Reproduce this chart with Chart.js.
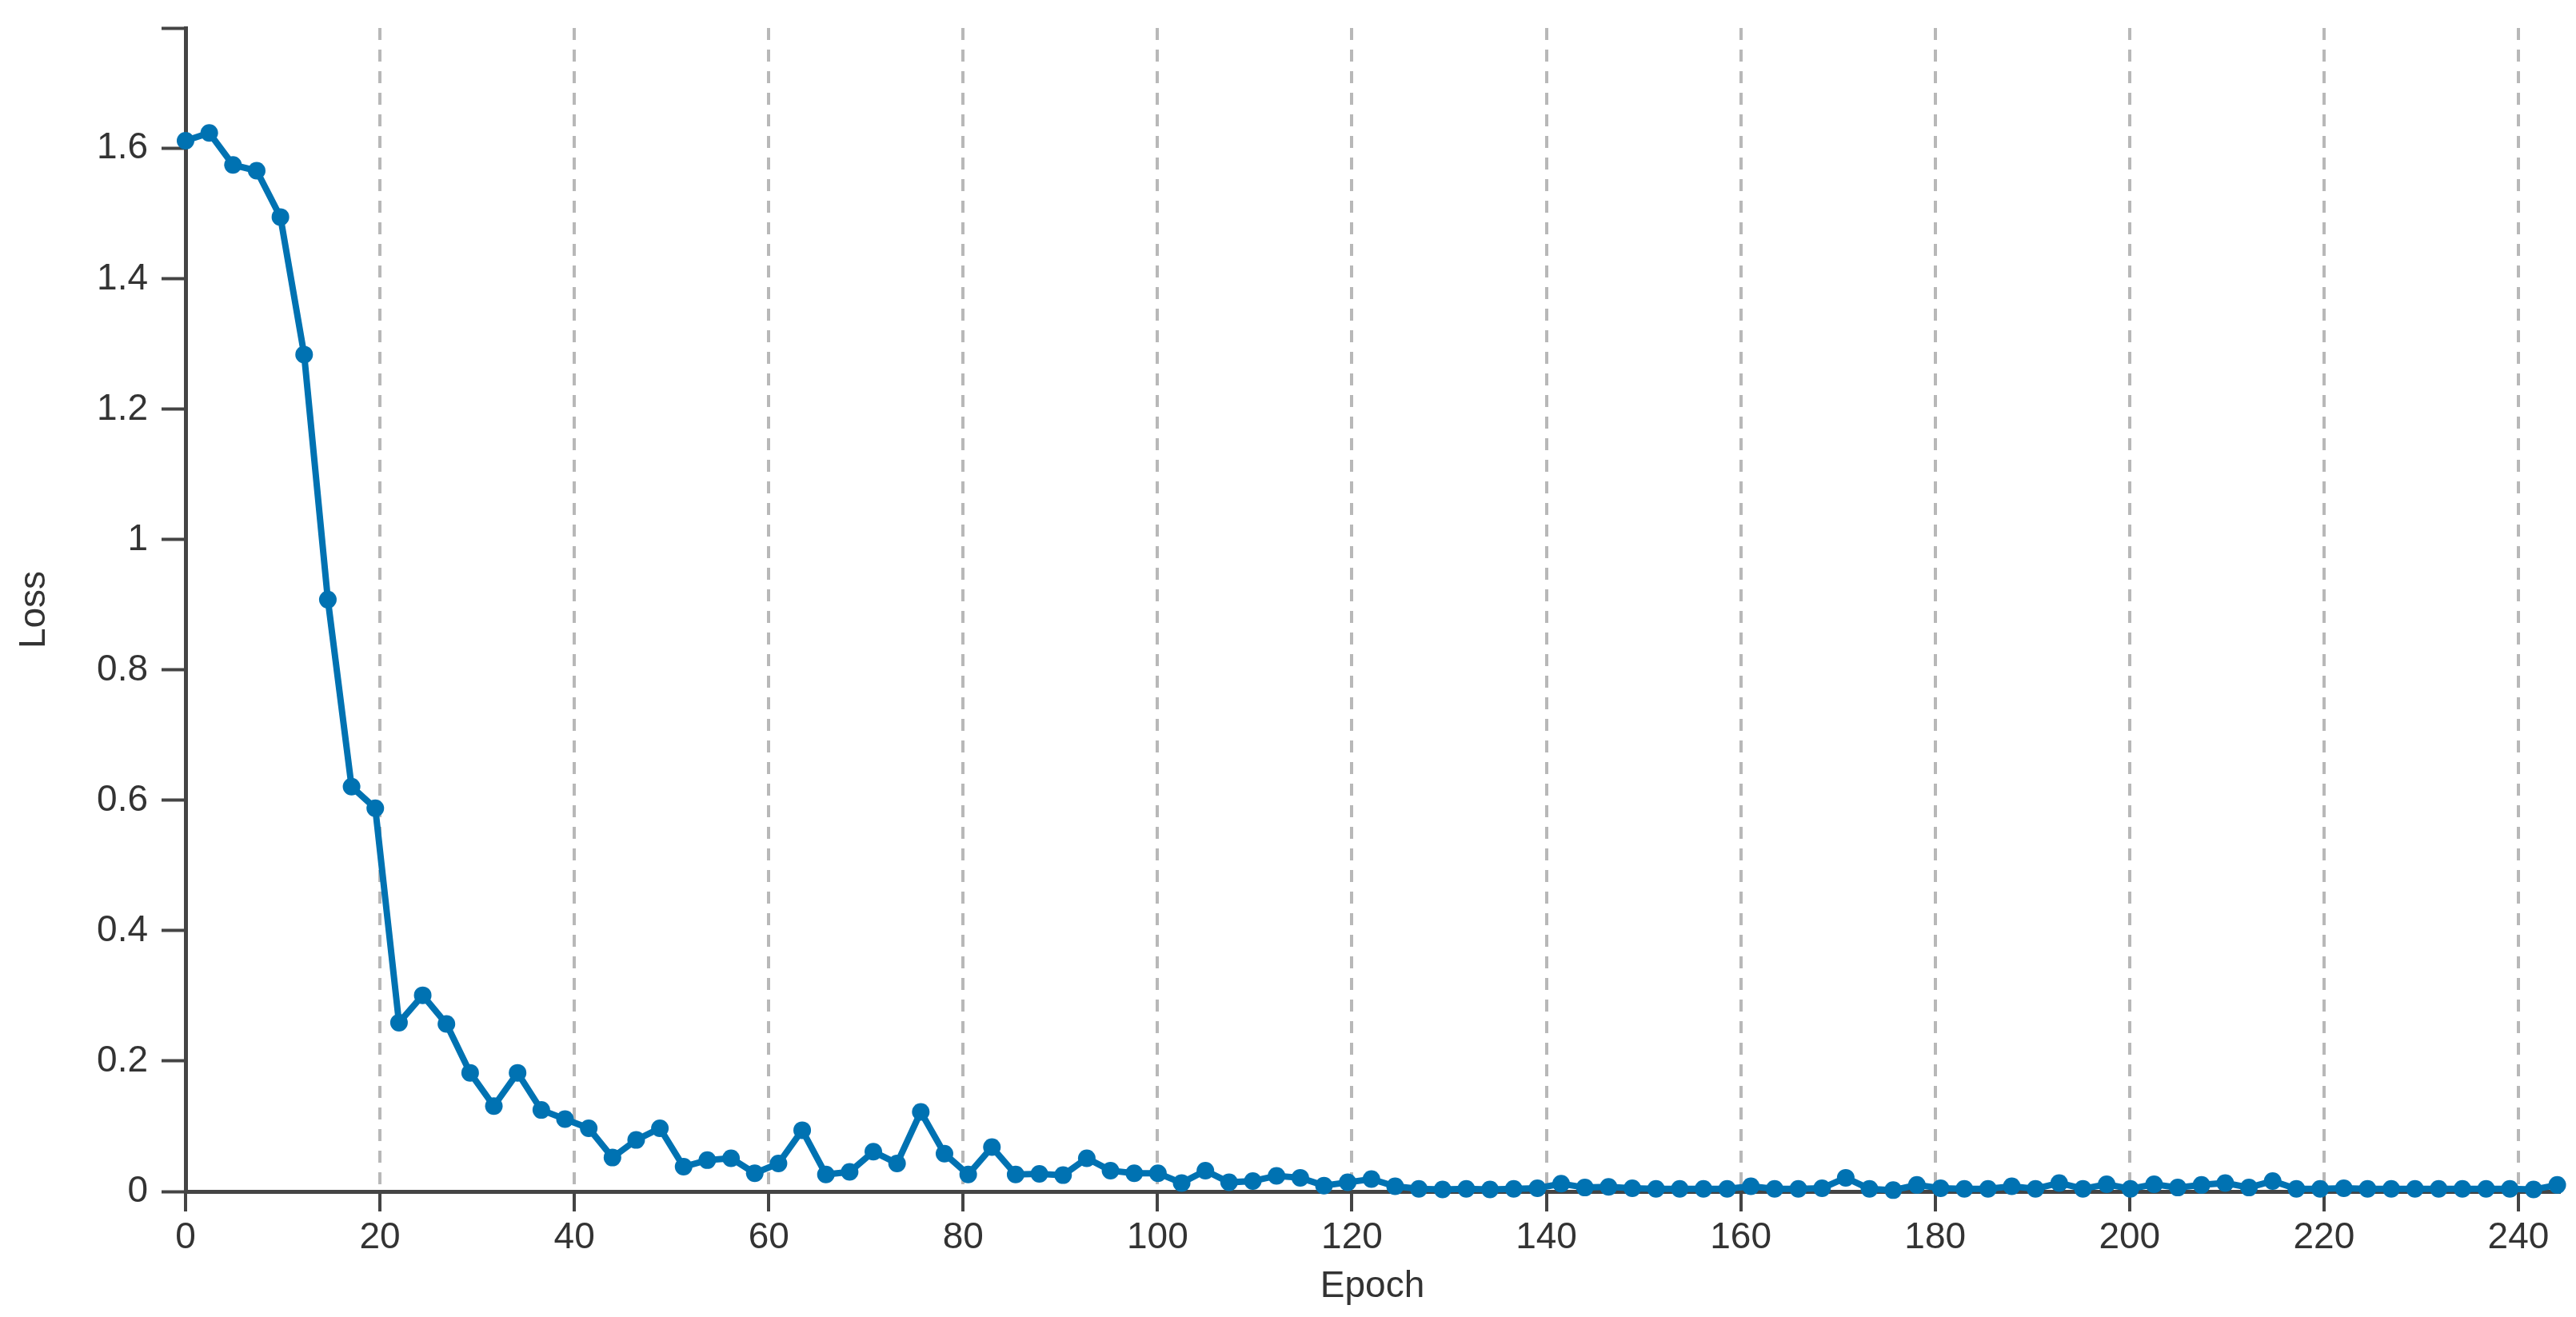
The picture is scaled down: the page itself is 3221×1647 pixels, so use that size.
<!DOCTYPE html>
<html>
<head>
<meta charset="utf-8">
<script src="https://cdn.jsdelivr.net/npm/chart.js@4/dist/chart.umd.min.js"></script>
<style>
  html, body { margin: 0; padding: 0; background: #fff; }
  #wrap { width: 3221px; height: 1647px; }
</style>
</head>
<body>
<div id="wrap"><canvas id="lossChart" width="3221" height="1647"></canvas></div>
<script>
// epochs at which the loss was logged
const epochs = [0, 2.44, 4.88, 7.32, 9.76, 12.2, 14.64, 17.08, 19.52, 21.96,
    24.4, 26.84, 29.28, 31.72, 34.16, 36.6, 39.04, 41.48, 43.92, 46.36,
    48.8, 51.24, 53.68, 56.12, 58.56, 61, 63.44, 65.88, 68.32, 70.76,
    73.2, 75.64, 78.08, 80.52, 82.96, 85.4, 87.84, 90.28, 92.72, 95.16,
    97.6, 100.04, 102.48, 104.92, 107.36, 109.8, 112.24, 114.68, 117.12, 119.56,
    122, 124.44, 126.88, 129.32, 131.76, 134.2, 136.64, 139.08, 141.52, 143.96,
    146.4, 148.84, 151.28, 153.72, 156.16, 158.6, 161.04, 163.48, 165.92, 168.36,
    170.8, 173.24, 175.68, 178.12, 180.56, 183, 185.44, 187.88, 190.32, 192.76,
    195.2, 197.64, 200.08, 202.52, 204.96, 207.4, 209.84, 212.28, 214.72, 217.16,
    219.6, 222.04, 224.48, 226.92, 229.36, 231.8, 234.24, 236.68, 239.12, 241.56,
    244];

const loss = [1.612, 1.624, 1.575, 1.566, 1.495, 1.284, 0.908, 0.621, 0.588, 0.259,
    0.301, 0.257, 0.182, 0.131, 0.182, 0.125, 0.111, 0.097, 0.052, 0.079,
    0.097, 0.038, 0.048, 0.051, 0.028, 0.043, 0.094, 0.026, 0.030, 0.061,
    0.043, 0.122, 0.058, 0.026, 0.068, 0.026, 0.027, 0.025, 0.051, 0.032,
    0.028, 0.028, 0.013, 0.032, 0.014, 0.016, 0.024, 0.021, 0.009, 0.014,
    0.019, 0.008, 0.004, 0.003, 0.004, 0.003, 0.004, 0.005, 0.012, 0.006,
    0.007, 0.005, 0.004, 0.004, 0.004, 0.004, 0.008, 0.004, 0.004, 0.005,
    0.021, 0.004, 0.002, 0.010, 0.005, 0.004, 0.004, 0.008, 0.004, 0.013,
    0.004, 0.011, 0.004, 0.011, 0.006, 0.010, 0.013, 0.006, 0.016, 0.004,
    0.004, 0.005, 0.004, 0.004, 0.004, 0.004, 0.004, 0.004, 0.004, 0.003,
    0.010];

const xTicks = [0, 20, 40, 60, 80, 100, 120, 140, 160, 180, 200, 220, 240];
const yTicks = [0, 0.2, 0.4, 0.6, 0.8, 1, 1.2, 1.4, 1.6];
const xMax = 244.2;
const yMax = 1.785;

var points = [];
for (i = 0; i < epochs.length; i++) {
    points.push({x: epochs[i], y: loss[i]});
}

const lineColor = '#0072B2';
const axisColor = '#444444';
const tickFont = {family: "'Liberation Sans', Arial, sans-serif", size: 46};

const ctx = document.getElementById('lossChart');
const lossChart = new Chart(ctx, {
    type: 'line',
    data: {
        datasets: [{
            label: 'Loss',
            data: points,
            borderColor: lineColor,
            backgroundColor: lineColor,
            borderWidth: 8,
            pointRadius: 11,
            pointBorderWidth: 0,
            pointBackgroundColor: lineColor,
            tension: 0,
            clip: false
        }]
    },
    options: {
        responsive: false,
        animation: false,
        events: [],
        layout: {
            padding: {top: 35, right: 21, left: 0, bottom: 0}
        },
        plugins: {
            legend: {display: false},
            tooltip: {enabled: false}
        },
        scales: {
            x: {
                type: 'linear',
                position: 'bottom',
                min: 0,
                max: xMax,
                afterBuildTicks: function(scale) {
                    scale.ticks = xTicks.map(v => ({value: v}));
                },
                afterFit: function(scale) {
                    scale.height = 157;
                },
                grid: {
                    color: '#b8b8b8',
                    lineWidth: 4,
                    tickColor: axisColor,
                    tickWidth: 4,
                    tickLength: 25,
                    tickBorderDash: []
                },
                border: {
                    color: axisColor,
                    width: 5,
                    dash: [15, 12]
                },
                ticks: {
                    color: '#333',
                    font: tickFont,
                    padding: 6,
                    maxRotation: 0,
                    autoSkip: false
                },
                title: {
                    display: true,
                    text: 'Epoch',
                    color: '#333',
                    font: tickFont,
                    padding: {top: 0, bottom: 10}
                }
            },
            y: {
                type: 'linear',
                min: 0,
                max: yMax,
                afterBuildTicks: function(scale) {
                    scale.ticks = yTicks.concat([yMax]).map(v => ({value: v}));
                },
                afterFit: function(scale) {
                    scale.width = 232;
                },
                grid: {
                    drawOnChartArea: false,
                    color: axisColor,
                    tickColor: axisColor,
                    tickWidth: 4,
                    tickLength: 30
                },
                border: {
                    color: axisColor,
                    width: 5
                },
                ticks: {
                    color: '#333',
                    // the cap tick at the top carries no label
                    font: function(c) {
                        if (c.tick && c.tick.value === yMax) {
                            return {family: tickFont.family, size: 1};
                        }
                        return tickFont;
                    },
                    padding: 17,
                    autoSkip: false,
                    callback: function(value) {
                        if (value === yMax) return '';
                        return String(value);
                    }
                },
                title: {
                    display: true,
                    text: 'Loss',
                    color: '#333',
                    font: tickFont,
                    padding: {top: 16, bottom: 0}
                }
            }
        }
    }
});
</script>
</body>
</html>
